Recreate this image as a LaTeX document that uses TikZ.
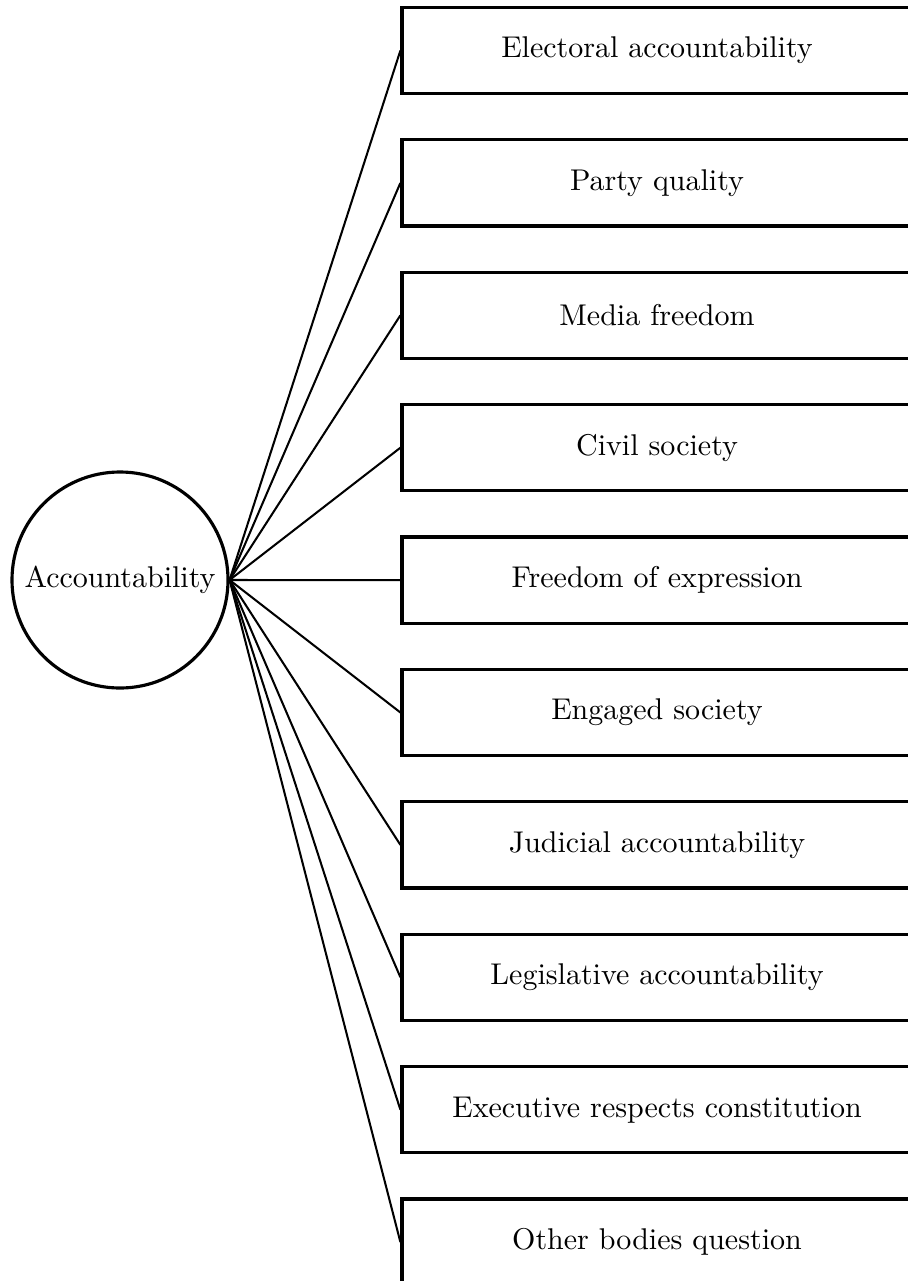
\documentclass[tikz,border=0pt]{standalone}
\begin{document}
\begin{tikzpicture}[x=0.3333pt, y=-0.3333pt,
  hub/.style={circle, draw, line width=1.05pt, minimum size=72pt, inner sep=0pt},
  leaf/.style={rectangle, draw, line width=1.05pt, minimum width=170pt, minimum height=28.7pt, inner sep=0pt},
  link/.style={line width=0.68pt}]
\useasboundingbox (0,0) rectangle (908,1281);
\node[hub] (acc) at (120,580) {Accountability};
\foreach \t [count=\i from 0] in {Electoral accountability, Party quality, Media freedom, Civil society, Freedom of expression, Engaged society, Judicial accountability, Legislative accountability, Executive respects constitution, Other bodies question}{
  \node[leaf] (b\i) at (657,{50.5+\i*132.4}) {\t};
  \draw[link] (acc.east) -- (b\i.west);
}
\end{tikzpicture}
\end{document}
